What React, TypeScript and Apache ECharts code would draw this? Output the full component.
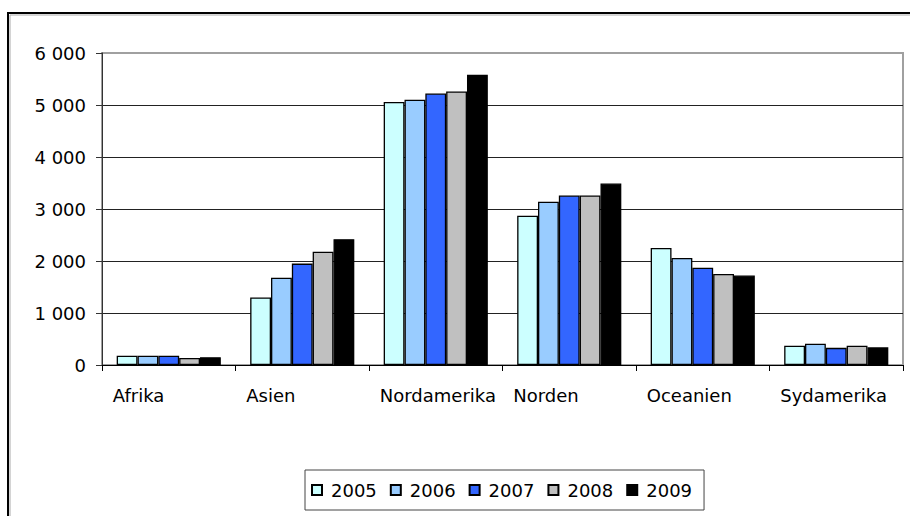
import React, { useEffect, useRef } from "react";
import * as echarts from "echarts";

const categories = ["Afrika", "Asien", "Nordamerika", "Norden", "Oceanien", "Sydamerika"];
const years = ["2005", "2006", "2007", "2008", "2009"];
const y2005 = [180, 1300, 5060, 2870, 2250, 370];
const y2006 = [180, 1680, 5100, 3140, 2060, 410];
const y2007 = [180, 1950, 5220, 3260, 1870, 330];
const y2008 = [135, 2180, 5260, 3260, 1750, 370];
const y2009 = [150, 2420, 5580, 3490, 1720, 340];
const seriesValues = [y2005, y2006, y2007, y2008, y2009];
const colors = ["#CCFFFF", "#99CCFF", "#3366FF", "#C0C0C0", "#000000"];

const FONT = "DejaVu Sans";

function fmt(v: number): string {
  return String(v).replace(/\B(?=(\d{3})+(?!\d))/g, " ");
}

export default function App() {
  const ref = useRef<HTMLDivElement>(null);
  useEffect(() => {
    if (!ref.current) return;
    const chart = echarts.init(ref.current, null, { renderer: "svg" });
    chart.setOption({
      animation: false,
      backgroundColor: "#ffffff",
      textStyle: { fontFamily: FONT },
      grid: {
        left: 102,
        right: 7,
        top: 53,
        bottom: 151,
        show: true,
        borderColor: "#a0a0a0",
        borderWidth: 2,
        backgroundColor: "transparent",
      },
      legend: {
        data: years,
        left: 305,
        top: 470,
        orient: "horizontal",
        itemWidth: 10,
        itemHeight: 10,
        itemGap: 13,
        padding: [11, 12, 11, 6],
        borderColor: "#444",
        borderWidth: 1,
        icon: "rect",
        textStyle: { fontFamily: FONT, fontSize: 18, color: "#000", padding: [0, 0, 0, 4] },
      },
      xAxis: {
        type: "category",
        data: categories,
        axisLine: { show: true, lineStyle: { color: "#000", width: 1 } },
        axisTick: { show: true, length: 6, lineStyle: { color: "#000" } },
        axisLabel: {
          interval: 0,
          margin: 21,
          align: "left",
          padding: [0, 0, 0, -56],
          fontFamily: FONT,
          fontSize: 18,
          color: "#000",
        },
      },
      yAxis: {
        type: "value",
        min: 0,
        max: 6000,
        interval: 1000,
        axisLine: { show: true, lineStyle: { color: "#333", width: 1 } },
        axisTick: { show: true, length: 6, lineStyle: { color: "#333" } },
        splitLine: { show: true, showMaxLine: false, lineStyle: { color: "#222", width: 1 } },
        axisLabel: {
          margin: 16,
          fontFamily: FONT,
          fontSize: 18,
          color: "#000",
          padding: [0, 0, 4, 0],
          formatter: (v: number) => fmt(v),
        },
      },
      series: years.map((y, i) => ({
        name: y,
        type: "bar",
        data: seriesValues[i],
        barGap: "0%",
        barCategoryGap: "22%",
        itemStyle: { color: colors[i], borderColor: "#000", borderWidth: 1.3 },
      })),
      graphic: [
        {
          type: "rect",
          shape: { x: 10, y: 15, width: 1000, height: 1000 },
          style: { fill: "none", stroke: "#aaaaaa", lineWidth: 1 },
          silent: true,
        },
        {
          type: "rect",
          shape: { x: 8, y: 13, width: 1000, height: 1000 },
          style: { fill: "none", stroke: "#000000", lineWidth: 2 },
          silent: true,
        },
      ],
    });
    return () => chart.dispose();
  }, []);
  return (
    <div
      ref={ref}
      style={{ position: "fixed", left: 0, top: 0, width: 910, height: 516, background: "#fff" }}
    />
  );
}
